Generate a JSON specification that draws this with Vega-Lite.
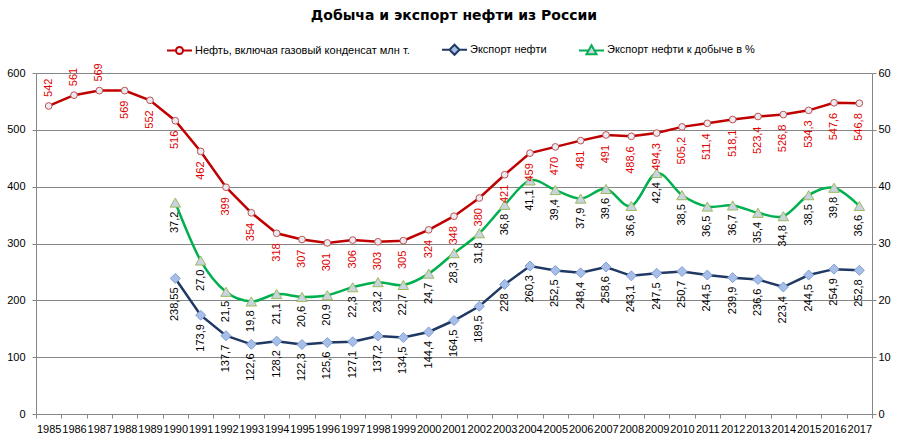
{
  "$schema": "https://vega.github.io/schema/vega-lite/v6.json",
  "width": 836,
  "height": 341,
  "autosize": {"type": "none"},
  "padding": {"left": 36, "top": 73, "right": 30, "bottom": 27},
  "background": "white",
  "config": {
    "locale": {"number": {"decimal": ",", "thousands": " ", "grouping": [3], "currency": ["", ""]}},
    "view": {"stroke": null},
    "font": "Liberation Sans"
  },
  "title": {
    "text": "Добыча и экспорт нефти из России",
    "font": "DejaVu Sans",
    "fontSize": 14,
    "fontWeight": "bold",
    "color": "#000000",
    "anchor": "middle",
    "frame": "group",
    "offset": 13
  },
  "data": {
    "values": [
      {"year": 1985, "prod": 542, "export": null, "ratio": null},
      {"year": 1986, "prod": 561, "export": null, "ratio": null},
      {"year": 1987, "prod": 569, "export": null, "ratio": null},
      {"year": 1988, "prod": 569, "export": null, "ratio": null},
      {"year": 1989, "prod": 552, "export": null, "ratio": null},
      {"year": 1990, "prod": 516, "export": 238.55, "ratio": 37.2},
      {"year": 1991, "prod": 462, "export": 173.9, "ratio": 27.0},
      {"year": 1992, "prod": 399, "export": 137.7, "ratio": 21.5},
      {"year": 1993, "prod": 354, "export": 122.6, "ratio": 19.8},
      {"year": 1994, "prod": 318, "export": 128.2, "ratio": 21.1},
      {"year": 1995, "prod": 307, "export": 122.3, "ratio": 20.6},
      {"year": 1996, "prod": 301, "export": 125.6, "ratio": 20.9},
      {"year": 1997, "prod": 306, "export": 127.1, "ratio": 22.3},
      {"year": 1998, "prod": 303, "export": 137.2, "ratio": 23.2},
      {"year": 1999, "prod": 305, "export": 134.5, "ratio": 22.7},
      {"year": 2000, "prod": 324, "export": 144.4, "ratio": 24.7},
      {"year": 2001, "prod": 348, "export": 164.5, "ratio": 28.3},
      {"year": 2002, "prod": 380, "export": 189.5, "ratio": 31.8},
      {"year": 2003, "prod": 421, "export": 228, "ratio": 36.8},
      {"year": 2004, "prod": 459, "export": 260.3, "ratio": 41.1},
      {"year": 2005, "prod": 470, "export": 252.5, "ratio": 39.4},
      {"year": 2006, "prod": 481, "export": 248.4, "ratio": 37.9},
      {"year": 2007, "prod": 491, "export": 258.6, "ratio": 39.6},
      {"year": 2008, "prod": 488.6, "export": 243.1, "ratio": 36.6},
      {"year": 2009, "prod": 494.3, "export": 247.5, "ratio": 42.4},
      {"year": 2010, "prod": 505.2, "export": 250.7, "ratio": 38.5},
      {"year": 2011, "prod": 511.4, "export": 244.5, "ratio": 36.5},
      {"year": 2012, "prod": 518.1, "export": 239.9, "ratio": 36.7},
      {"year": 2013, "prod": 523.4, "export": 236.6, "ratio": 35.4},
      {"year": 2014, "prod": 526.8, "export": 223.4, "ratio": 34.8},
      {"year": 2015, "prod": 534.3, "export": 244.5, "ratio": 38.5},
      {"year": 2016, "prod": 547.6, "export": 254.9, "ratio": 39.8},
      {"year": 2017, "prod": 546.8, "export": 252.8, "ratio": 36.6}
    ]
  },
  "encoding": {
    "x": {
      "field": "year",
      "type": "ordinal",
      "bandPosition": 0.5,
      "scale": {"type": "band", "paddingInner": 0, "paddingOuter": 0},
      "axis": {
        "title": null,
        "labelAngle": 0,
        "labelOverlap": false,
        "labelFontSize": 11,
        "labelFont": "Liberation Sans",
        "labelColor": "#000000",
        "tickBand": "extent",
        "tickSize": 4,
        "tickColor": "#868686",
        "domainColor": "#868686",
        "labelPadding": 5,
        "grid": false
      }
    }
  },
  "layer": [
    {
      "mark": {"type": "line", "color": "#C00000", "strokeWidth": 2.5},
      "encoding": {
        "y": {
          "field": "prod", "type": "quantitative",
          "scale": {"domain": [0, 600], "nice": false},
          "axis": {
            "title": null,
            "values": [0, 100, 200, 300, 400, 500, 600],
            "grid": true,
            "gridColor": "#868686",
            "domainColor": "#868686",
            "tickColor": "#868686",
            "tickSize": 4,
            "labelPadding": 7,
            "labelFontSize": 11,
            "labelFont": "Liberation Sans",
            "labelColor": "#000000"
          }
        },
        "color": {
          "datum": "Нефть, включая газовый конденсат млн т.",
          "scale": {
            "domain": ["Нефть, включая газовый конденсат млн т.", "Экспорт нефти", "Экспорт нефти к добыче в %"],
            "range": ["#C00000", "#1F3864", "#00B050"]
          },
          "legend": {
            "title": null,
            "orient": "none",
            "legendX": 130,
            "legendY": -37,
            "direction": "horizontal",
            "symbolSize": 625,
            "symbolStrokeWidth": 2,
            "labelFontSize": 11,
            "labelFont": "Liberation Sans",
            "labelColor": "#000000",
            "labelLimit": 300,
            "labelOffset": 2,
            "columnPadding": 28,
            "encode": {
              "symbols": {
                "update": {
                  "shape": {"signal": "datum.value === 'Экспорт нефти' ? 'M-1,0H-0.4M0.4,0H1M-0.4,0L0,-0.4L0.4,0L0,0.4Z' : (indexof(datum.value, '%') >= 0 ? 'M-1,0H-0.23M0.23,0H1M-0.4,0.3L0,-0.4L0.4,0.3Z' : 'M-1,0H-0.28M0.28,0H1M-0.28,0A0.28,0.28,0,1,0,0.28,0A0.28,0.28,0,1,0,-0.28,0Z')"},
                  "fill": {"signal": "datum.value === 'Экспорт нефти' ? '#A7BFE8' : (indexof(datum.value, '%') >= 0 ? '#C9D3E3' : '#E8EAF4')"}
                }
              }
            }
          }
        }
      }
    },
    {
      "mark": {"type": "line", "color": "#1F3864", "strokeWidth": 2.5},
      "encoding": {
        "y": {"field": "export", "type": "quantitative", "scale": {"domain": [0, 600], "nice": false}, "axis": null},
        "color": {
          "datum": "Экспорт нефти",
          "scale": {
            "domain": ["Нефть, включая газовый конденсат млн т.", "Экспорт нефти", "Экспорт нефти к добыче в %"],
            "range": ["#C00000", "#1F3864", "#00B050"]
          }
        }
      }
    },
    {
      "mark": {"type": "line", "color": "#00B050", "strokeWidth": 2.5, "interpolate": "cardinal"},
      "encoding": {
        "y": {
          "field": "ratio", "type": "quantitative",
          "scale": {"domain": [0, 60], "nice": false},
          "axis": {
            "title": null,
            "orient": "right",
            "values": [0, 10, 20, 30, 40, 50, 60],
            "grid": false,
            "domainColor": "#868686",
            "tickColor": "#868686",
            "tickSize": 4,
            "labelPadding": 2,
            "labelFontSize": 11,
            "labelFont": "Liberation Sans",
            "labelColor": "#000000"
          }
        },
        "color": {
          "datum": "Экспорт нефти к добыче в %",
          "scale": {
            "domain": ["Нефть, включая газовый конденсат млн т.", "Экспорт нефти", "Экспорт нефти к добыче в %"],
            "range": ["#C00000", "#1F3864", "#00B050"]
          }
        }
      }
    },
    {
      "mark": {"type": "point", "shape": "circle", "filled": true, "size": 45, "fill": "#E8EAF4", "stroke": "#C0504D", "strokeWidth": 1, "opacity": 1},
      "encoding": {
        "y": {"field": "prod", "type": "quantitative", "scale": {"domain": [0, 600], "nice": false}, "axis": null}
      }
    },
    {
      "mark": {"type": "point", "shape": "diamond", "filled": true, "size": 100, "fill": "#A7BFE8", "stroke": "#7F9FD3", "strokeWidth": 1, "opacity": 1},
      "encoding": {
        "y": {"field": "export", "type": "quantitative", "scale": {"domain": [0, 600], "nice": false}, "axis": null}
      }
    },
    {
      "mark": {"type": "point", "shape": "triangle-up", "filled": true, "size": 110, "fill": "#C9D3E3", "stroke": "#9BBB59", "strokeWidth": 1, "opacity": 1},
      "encoding": {
        "y": {"field": "ratio", "type": "quantitative", "scale": {"domain": [0, 60], "nice": false}, "axis": null}
      }
    },
    {
      "transform": [{"filter": "datum.year <= 1987"}],
      "mark": {"type": "text", "angle": 270, "align": "left", "baseline": "middle", "dx": 9, "fontSize": 11, "font": "Liberation Sans", "color": "#E00000"},
      "encoding": {
        "y": {"field": "prod", "type": "quantitative", "scale": {"domain": [0, 600], "nice": false}, "axis": null},
        "text": {"field": "prod", "type": "quantitative", "format": "~r"}
      }
    },
    {
      "transform": [{"filter": "datum.year > 1987"}],
      "mark": {"type": "text", "angle": 270, "align": "right", "baseline": "middle", "dx": -10, "fontSize": 11, "font": "Liberation Sans", "color": "#E00000"},
      "encoding": {
        "y": {"field": "prod", "type": "quantitative", "scale": {"domain": [0, 600], "nice": false}, "axis": null},
        "text": {"field": "prod", "type": "quantitative", "format": "~r"}
      }
    },
    {
      "mark": {"type": "text", "angle": 270, "align": "right", "baseline": "middle", "dx": -9, "fontSize": 11, "font": "Liberation Sans", "color": "#000000"},
      "encoding": {
        "y": {"field": "export", "type": "quantitative", "scale": {"domain": [0, 600], "nice": false}, "axis": null},
        "text": {"field": "export", "type": "quantitative", "format": "~r"}
      }
    },
    {
      "mark": {"type": "text", "angle": 270, "align": "right", "baseline": "middle", "dx": -9, "fontSize": 11, "font": "Liberation Sans", "color": "#000000"},
      "encoding": {
        "y": {"field": "ratio", "type": "quantitative", "scale": {"domain": [0, 60], "nice": false}, "axis": null},
        "text": {"field": "ratio", "type": "quantitative", "format": ".1f"}
      }
    }
  ],
  "resolve": {"scale": {"y": "independent"}}
}
